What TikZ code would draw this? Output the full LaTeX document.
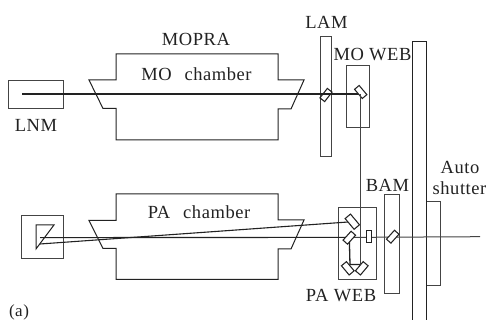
\documentclass[tikz,border=0pt]{standalone}
\usepackage{fontspec}
\setmainfont[LetterSpace=3]{Liberation Serif}
\definecolor{ink}{HTML}{222222}
\definecolor{soft}{HTML}{444444}
\tikzset{
  ln/.style={draw=ink,line width=1pt},
  thick beam/.style={draw=ink,line width=1.3pt},
  thin beam/.style={draw=soft,line width=1pt},
  boxn/.style={draw=soft,line width=1pt,inner sep=0pt,outer sep=0pt},
  mirror/.style={draw=ink,line width=1.05pt,inner sep=0pt,outer sep=0pt,minimum width=12pt,minimum height=6pt},
  lab/.style={text=ink,font=\fontsize{18.5}{20}\selectfont,inner sep=0pt},
}
\begin{document}
\begin{tikzpicture}[x=1pt,y=-1pt]
\useasboundingbox[fill=white] (0,0) rectangle (488,320);
% boxes
\node[boxn,minimum width=55pt,minimum height=28pt] (lnm) at (35.5,95) {};
\node[boxn,minimum width=42pt,minimum height=43.5pt] (prism) at (42,237.2) {};
\node[boxn,minimum width=11.5pt,minimum height=120.5pt] (lam) at (326.2,96.7) {};
\node[boxn,minimum width=22.5pt,minimum height=62pt] (moweb) at (358.2,97) {};
\node[boxn,minimum width=38.3pt,minimum height=72pt] (paweb) at (357.8,244) {};
\node[boxn,minimum width=15pt,minimum height=99pt] (bam) at (391.5,244) {};
\node[boxn,minimum width=14pt,minimum height=84pt] (shutter) at (433,243.7) {};
\draw[ln] (412,320) -- (412,41.5) -- (426,41.5) -- (426,320);
% chambers
\draw[ln] (116,140) -- (116,108.5) -- (103,108.5) -- (89,80) -- (116,80) -- (116,54) -- (278,54) -- (278,80) -- (304,80) -- (291,109) -- (278,109) -- (278,140) -- cycle;
\draw[ln] (116,279.5) -- (116,248.5) -- (103,248.5) -- (89,220.5) -- (116,220.5) -- (116,194) -- (278,194) -- (278,220) -- (304,220) -- (291,249) -- (278,249) -- (278,279.5) -- cycle;
% prism
\draw[ln,line join=miter] (36,225) -- (54,225) -- (36,249) -- cycle;
% beam end points
\coordinate (mo start) at (22,94);
\coordinate (mo end) at (360,94);
\coordinate (pa start) at (40,237.6);
\coordinate (pa mid) at (349.3,237.4);
\coordinate (pa out) at (480,236.7);
\coordinate (pa tilt) at (40,244);
\coordinate (rear) at (360,264.5);
\coordinate (rear left) at (350,264.5);
% mirrors and beams
\draw[thick beam] (mo start) -- (mo end);
\node[mirror,rotate=52] (lam m) at (326,95) {};
\node[mirror,fill=white,rotate=-50] (mo m) at (360.7,92) {};
\node[mirror,fill=white,minimum width=14pt,minimum height=7pt,rotate=-50] (pa m1) at (352.3,221.7) {};
\draw[thin beam] (pa mid) -- (pa out);
\draw[draw=ink,line width=1.1pt] (pa start) -- (pa mid);
\draw[draw=ink,line width=1.1pt] (pa tilt) -- (pa m1);
\node[mirror,fill=white,rotate=48] (pa m2) at (349.3,237.7) {};
\draw[thin beam] (mo end) -- (rear);
\draw[thick beam] (pa m2) -- (rear left) -- (rear);
\node[mirror,fill=white,minimum width=12pt,minimum height=6.5pt,rotate=-50] (pa m3) at (347.8,268.3) {};
\node[mirror,fill=white,minimum width=12pt,minimum height=6.5pt,rotate=50] (pa m4) at (361.8,268.3) {};
\node[mirror,fill=white,minimum width=5pt,minimum height=12pt] (aperture) at (369,236.7) {};
\node[mirror,fill=white,rotate=48] (bam m) at (392.7,236.7) {};
% labels
\node[lab] (t1) at (196,39) {MOPRA};
\node[lab] (t2) at (196.5,74) {MO\hspace{.7em}chamber};
\node[lab] (t3) at (36,125) {LNM};
\node[lab] (t4) at (326.5,22) {LAM};
\node[lab] (t5) at (372.5,55) {MO WEB};
\node[lab] (t6) at (199,212) {PA\hspace{.7em}chamber};
\node[lab] (t7) at (341,296) {PA\hspace{.3em}WEB};
\node[lab] (t8) at (387.5,185) {BAM};
\node[lab] (t9) at (460,167) {Auto};
\node[lab] (t10) at (459.5,188) {shutter};
\node[lab,font=\fontsize{17}{19}\selectfont] (t11) at (19,312) {(a)};
\end{tikzpicture}
\end{document}
